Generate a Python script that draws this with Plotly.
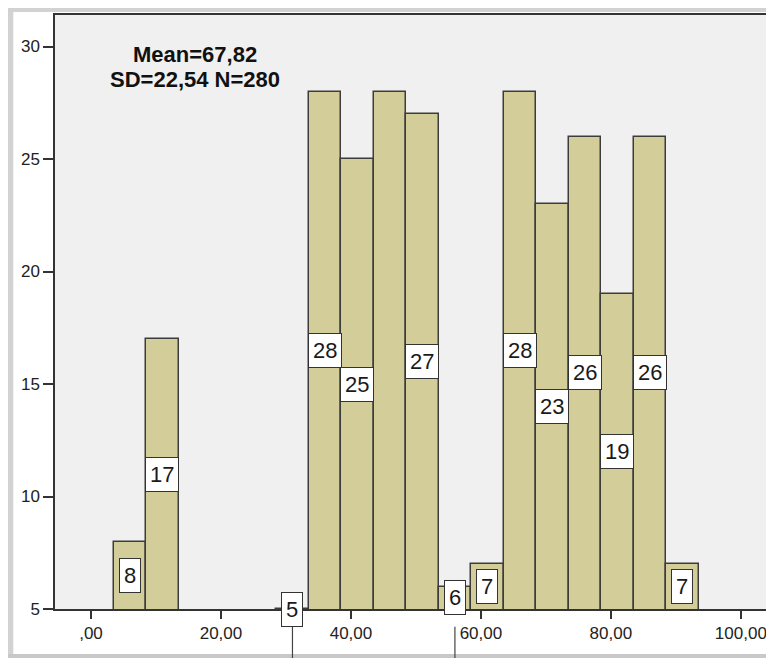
import plotly.graph_objects as go


# ---------------------------------------------------
# Data (histogram bins, width 5)
# ---------------------------------------------------

bin_centers = [6, 11, 31, 36, 41, 46, 51, 56, 61, 66, 71, 76, 81, 86, 91]
counts = [8, 17, 5, 28, 25, 28, 27, 6, 7, 28, 23, 26, 19, 26, 7]
bar_labels = ["8", "17", "5", "28", "25", "", "27", "6", "7", "28", "23", "26", "19", "26", "7"]
leader_bins = [31, 56]

x_ticks = [0, 20, 40, 60, 80, 100]
x_tick_text = [",00", "20,00", "40,00", "60,00", "80,00", "100,00"]
y_ticks = [5, 10, 15, 20, 25, 30]

stats_lines = ["Mean=67,82", "SD=22,54 N=280"]

Y_BASE = 5
FONT = "Liberation Sans"

# ---------------------------------------------------
# Histogram
# ---------------------------------------------------

fig = go.Figure()

fig.add_trace(go.Bar(
    x=bin_centers,
    y=counts,
    width=5,
    marker=dict(color="#D3CE99", line=dict(color="#3C3C3C", width=1.5)),
    hoverinfo="x+y",
    showlegend=False
))

# value labels, placed in the middle of the visible part of each bar
for xc, v, txt in zip(bin_centers, counts, bar_labels):
    if not txt:
        continue
    fig.add_annotation(
        x=xc, y=(v + Y_BASE) / 2, xref="x", yref="y",
        text=txt, showarrow=False,
        font=dict(family=FONT, size=22, color="#1a1a1a"),
        bgcolor="white", bordercolor="#333333", borderwidth=1, borderpad=4
    )

# leader lines under the labels sitting on the baseline
for xc in leader_bins:
    fig.add_shape(
        type="line", xref="x", yref="paper",
        x0=xc, x1=xc, y0=-0.03, y1=-0.0825,
        line=dict(color="#444444", width=1.2)
    )

# stats text
for txt, ypos in zip(stats_lines, [0.933, 0.891]):
    fig.add_annotation(
        x=0.195, y=ypos, xref="paper", yref="paper",
        xanchor="center", yanchor="middle",
        text="<b>%s</b>" % txt, showarrow=False,
        font=dict(family=FONT, size=22, color="#111111")
    )

# window-like gray border (left, top, bottom)
for x0, x1, y0, y1, col in [
    (-0.066, -0.058, -0.0825, 1.012, "#D2D2D2"),
    (-0.066, 1.01, 1.005, 1.012, "#D2D2D2"),
    (-0.066, 1.01, -0.0825, -0.0758, "#C8C8C8"),
]:
    fig.add_shape(
        type="rect", xref="paper", yref="paper",
        x0=x0, x1=x1, y0=y0, y1=y1,
        line=dict(width=0), fillcolor=col, layer="below"
    )

fig.update_layout(
    width=766,
    height=650,
    margin=dict(l=47, r=0, t=7, b=49),
    paper_bgcolor="white",
    plot_bgcolor="#F0F0F0",
    bargap=0,
    font=dict(family=FONT, size=17, color="#222222"),
    xaxis=dict(
        range=[-5.54, 105.1],
        tickvals=x_ticks,
        ticktext=x_tick_text,
        ticks="outside", ticklen=8, tickwidth=1.5, tickcolor="#333333",
        showline=True, linecolor="#333333", linewidth=1.5, mirror=True,
        showgrid=False, zeroline=False,
        tickfont=dict(family=FONT, size=17, color="#222222")
    ),
    yaxis=dict(
        range=[5, 31.4],
        tickvals=y_ticks,
        ticks="outside", ticklen=10, tickwidth=1.5, tickcolor="#333333",
        showline=True, linecolor="#333333", linewidth=1.5,
        showgrid=False, zeroline=False,
        tickfont=dict(family=FONT, size=17, color="#222222")
    )
)

fig.write_html("out.html")
